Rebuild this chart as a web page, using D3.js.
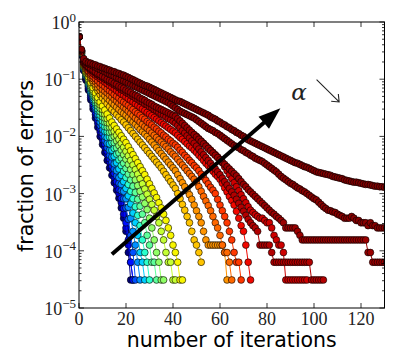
<!DOCTYPE html>
<html><head><meta charset="utf-8">
<script src="https://cdn.jsdelivr.net/npm/d3@7"></script>
<style>html,body{margin:0;padding:0;background:#fff;}svg{display:block;}</style>
</head><body>
<svg id="chart" width="399" height="363"></svg>
<script>
// ---- data (log10 of fraction of errors, index = iteration number) ----
const xTicks = [0, 20, 40, 60, 80, 100, 120];
const yTickExps = [0, -1, -2, -3, -4, -5];
const xLabel = "number of iterations";
const yLabel = "fraction of errors";
const alphaLabel = "α";
const colors = ['#000080','#0000c8','#0010ff','#0050ff','#0090ff','#00d0ff','#2affcd','#5dff9a','#90ff66','#c4ff33','#f8f500','#ffc400','#ff9400','#ff6800','#ff3800','#f10800','#cd0000','#b20000','#9a0000','#880000','#800000'];

const s01 = [-0.26,-0.58,-0.85,-1.02,-1.19,-1.36,-1.52,-1.68,-1.84,-2.0,-2.14,-2.28,-2.42,-2.55,-2.68,-2.81,-2.94,-3.08,-3.25,-3.43,-3.66,-4.03,-4.51];
const s02 = [-0.26,-0.57,-0.84,-1.0,-1.16,-1.32,-1.47,-1.62,-1.77,-1.92,-2.06,-2.19,-2.32,-2.45,-2.58,-2.72,-2.86,-3.0,-3.16,-3.36,-3.6,-3.9,-4.2,-4.51];
const s03 = [-0.26,-0.56,-0.83,-0.98,-1.13,-1.28,-1.43,-1.58,-1.72,-1.86,-2.0,-2.13,-2.26,-2.39,-2.52,-2.65,-2.79,-2.93,-3.08,-3.26,-3.51,-3.81,-4.2,-4.51];
const s04 = [-0.26,-0.55,-0.82,-0.97,-1.11,-1.25,-1.39,-1.53,-1.67,-1.81,-1.94,-2.07,-2.2,-2.33,-2.45,-2.57,-2.69,-2.82,-2.95,-3.09,-3.25,-3.45,-3.73,-4.03,-4.51];
const s05 = [-0.26,-0.55,-0.81,-0.95,-1.09,-1.23,-1.36,-1.49,-1.62,-1.75,-1.88,-2.0,-2.12,-2.24,-2.36,-2.48,-2.6,-2.72,-2.84,-2.96,-3.09,-3.24,-3.43,-3.66,-3.9,-4.2,-4.51];
const s06 = [-0.26,-0.54,-0.8,-0.94,-1.07,-1.2,-1.32,-1.44,-1.56,-1.68,-1.8,-1.91,-2.02,-2.13,-2.24,-2.35,-2.46,-2.57,-2.68,-2.79,-2.91,-3.04,-3.18,-3.34,-3.51,-3.73,-4.03,-4.2,-4.51];
const s07 = [-0.26,-0.54,-0.79,-0.92,-1.05,-1.17,-1.29,-1.41,-1.52,-1.63,-1.73,-1.83,-1.92,-2.01,-2.11,-2.21,-2.31,-2.41,-2.51,-2.61,-2.72,-2.84,-2.96,-3.09,-3.23,-3.38,-3.56,-3.81,-4.03,-4.2,-4.51];
const s08 = [-0.26,-0.53,-0.78,-0.91,-1.03,-1.15,-1.26,-1.37,-1.47,-1.57,-1.66,-1.75,-1.84,-1.93,-2.02,-2.11,-2.2,-2.29,-2.38,-2.47,-2.56,-2.66,-2.76,-2.87,-2.98,-3.1,-3.22,-3.36,-3.51,-3.73,-3.9,-4.2,-4.2,-4.51];
const s09 = [-0.26,-0.53,-0.77,-0.9,-1.01,-1.12,-1.22,-1.32,-1.42,-1.51,-1.6,-1.68,-1.76,-1.84,-1.92,-2.0,-2.08,-2.16,-2.24,-2.32,-2.4,-2.49,-2.58,-2.67,-2.76,-2.86,-2.96,-3.06,-3.17,-3.28,-3.43,-3.6,-3.81,-4.03,-4.2,-4.51,-4.51];
const s10 = [-0.26,-0.52,-0.76,-0.88,-0.99,-1.09,-1.19,-1.28,-1.37,-1.45,-1.53,-1.61,-1.69,-1.77,-1.84,-1.91,-1.98,-2.05,-2.12,-2.19,-2.26,-2.34,-2.42,-2.5,-2.58,-2.66,-2.74,-2.83,-2.92,-3.01,-3.1,-3.19,-3.29,-3.4,-3.51,-3.66,-3.81,-4.03,-4.2,-4.2,-4.51,-4.51];
const s11 = [-0.26,-0.52,-0.75,-0.86,-0.96,-1.06,-1.15,-1.24,-1.32,-1.4,-1.47,-1.54,-1.61,-1.68,-1.75,-1.81,-1.87,-1.93,-1.99,-2.05,-2.11,-2.18,-2.25,-2.32,-2.39,-2.46,-2.53,-2.6,-2.67,-2.75,-2.83,-2.91,-2.99,-3.07,-3.16,-3.25,-3.36,-3.47,-3.6,-3.73,-3.9,-4.03,-4.2,-4.51,-4.51];
const s12 = [-0.26,-0.52,-0.74,-0.83,-0.91,-0.99,-1.06,-1.13,-1.2,-1.27,-1.33,-1.38,-1.43,-1.48,-1.53,-1.57,-1.62,-1.66,-1.71,-1.75,-1.8,-1.85,-1.9,-1.95,-2.0,-2.05,-2.1,-2.15,-2.2,-2.25,-2.3,-2.35,-2.4,-2.45,-2.5,-2.55,-2.61,-2.67,-2.73,-2.79,-2.85,-2.91,-3.0,-3.09,-3.19,-3.29,-3.4,-3.51,-3.66,-3.81,-3.9,-4.03,-4.2];
const s13 = [-0.26,-0.51,-0.73,-0.82,-0.9,-0.97,-1.03,-1.09,-1.15,-1.2,-1.25,-1.29,-1.33,-1.37,-1.41,-1.45,-1.49,-1.53,-1.57,-1.6,-1.63,-1.67,-1.71,-1.75,-1.79,-1.83,-1.88,-1.92,-1.96,-2.0,-2.05,-2.1,-2.15,-2.2,-2.25,-2.3,-2.35,-2.4,-2.45,-2.5,-2.55,-2.6,-2.67,-2.74,-2.81,-2.88,-2.95,-3.02,-3.1,-3.2,-3.3,-3.4,-3.51,-3.66,-3.81,-3.9,-3.9,-3.9,-3.9,-3.9,-3.9,-3.9,-4.03,-4.51];
const s14 = [-0.26,-0.51,-0.72,-0.8,-0.87,-0.93,-0.99,-1.04,-1.09,-1.14,-1.18,-1.21,-1.24,-1.28,-1.31,-1.35,-1.38,-1.42,-1.45,-1.49,-1.52,-1.56,-1.6,-1.64,-1.68,-1.71,-1.75,-1.79,-1.83,-1.86,-1.9,-1.94,-1.98,-2.02,-2.06,-2.1,-2.14,-2.18,-2.22,-2.27,-2.31,-2.35,-2.4,-2.45,-2.5,-2.55,-2.6,-2.65,-2.7,-2.75,-2.8,-2.88,-2.96,-3.05,-3.13,-3.21,-3.3,-3.4,-3.51,-3.6,-3.73,-3.9,-4.03,-4.03,-4.2,-4.51];
const s15 = [-0.26,-0.51,-0.71,-0.78,-0.85,-0.9,-0.95,-0.99,-1.03,-1.07,-1.1,-1.13,-1.17,-1.2,-1.23,-1.27,-1.3,-1.33,-1.37,-1.4,-1.43,-1.46,-1.5,-1.53,-1.57,-1.6,-1.63,-1.67,-1.7,-1.74,-1.77,-1.8,-1.84,-1.87,-1.91,-1.94,-1.98,-2.01,-2.05,-2.08,-2.12,-2.15,-2.19,-2.24,-2.28,-2.33,-2.37,-2.42,-2.46,-2.51,-2.55,-2.6,-2.66,-2.71,-2.77,-2.83,-2.89,-2.94,-3.0,-3.1,-3.2,-3.3,-3.4,-3.51,-3.66,-3.81,-4.03,-4.2,-4.2,-4.51];
const s16 = [-0.26,-0.5,-0.7,-0.76,-0.81,-0.86,-0.9,-0.93,-0.96,-0.99,-1.02,-1.05,-1.08,-1.11,-1.14,-1.17,-1.2,-1.23,-1.26,-1.28,-1.31,-1.34,-1.37,-1.4,-1.43,-1.46,-1.49,-1.52,-1.55,-1.58,-1.61,-1.64,-1.67,-1.7,-1.73,-1.76,-1.79,-1.82,-1.85,-1.88,-1.91,-1.94,-1.98,-2.02,-2.05,-2.09,-2.13,-2.17,-2.2,-2.24,-2.28,-2.33,-2.37,-2.42,-2.47,-2.51,-2.56,-2.61,-2.66,-2.7,-2.75,-2.82,-2.9,-2.97,-3.05,-3.12,-3.2,-3.31,-3.43,-3.56,-3.66,-3.9,-4.2,-4.51];
const s17 = [-0.26,-0.5,-0.7,-0.75,-0.79,-0.83,-0.86,-0.89,-0.92,-0.94,-0.96,-0.99,-1.01,-1.04,-1.06,-1.09,-1.11,-1.14,-1.16,-1.19,-1.21,-1.23,-1.26,-1.28,-1.31,-1.33,-1.35,-1.38,-1.4,-1.43,-1.45,-1.48,-1.5,-1.53,-1.55,-1.58,-1.6,-1.63,-1.65,-1.68,-1.7,-1.73,-1.76,-1.79,-1.82,-1.85,-1.88,-1.91,-1.94,-1.97,-2.0,-2.04,-2.08,-2.12,-2.16,-2.2,-2.24,-2.28,-2.32,-2.36,-2.4,-2.46,-2.53,-2.6,-2.67,-2.74,-2.81,-2.88,-2.95,-3.02,-3.09,-3.16,-3.23,-3.29,-3.33,-3.37,-3.4,-3.43,-3.43,-3.47,-3.51,-3.51,-3.6,-3.73,-3.81,-3.9,-3.9,-4.03,-4.51,-4.51,-4.51,-4.51,-4.51,-4.51,-4.51,-4.51,-4.51,-4.51];
const s18 = [-0.26,-0.5,-0.7,-0.75,-0.79,-0.83,-0.86,-0.89,-0.92,-0.95,-0.97,-1.0,-1.02,-1.05,-1.07,-1.1,-1.12,-1.15,-1.18,-1.2,-1.23,-1.25,-1.28,-1.3,-1.33,-1.35,-1.38,-1.4,-1.43,-1.45,-1.48,-1.5,-1.53,-1.55,-1.58,-1.61,-1.63,-1.66,-1.69,-1.71,-1.74,-1.77,-1.81,-1.85,-1.9,-1.94,-1.99,-2.03,-2.08,-2.12,-2.17,-2.22,-2.27,-2.32,-2.37,-2.42,-2.47,-2.52,-2.57,-2.62,-2.67,-2.73,-2.79,-2.85,-2.91,-2.97,-3.03,-3.1,-3.17,-3.24,-3.31,-3.38,-3.45,-3.51,-3.56,-3.6,-3.66,-3.9,-3.9,-3.9,-3.9,-3.9,-4.03,-4.2,-4.2,-4.2,-4.2,-4.2,-4.2,-4.2,-4.2,-4.2,-4.2,-4.2,-4.2,-4.2,-4.2,-4.2,-4.2,-4.51,-4.51,-4.51,-4.51,-4.51,-4.51];
const s19 = [-0.26,-0.5,-0.69,-0.74,-0.78,-0.81,-0.84,-0.87,-0.9,-0.92,-0.95,-0.97,-1.0,-1.02,-1.04,-1.07,-1.09,-1.12,-1.14,-1.16,-1.19,-1.21,-1.23,-1.26,-1.28,-1.3,-1.33,-1.35,-1.37,-1.4,-1.42,-1.44,-1.47,-1.49,-1.51,-1.53,-1.55,-1.57,-1.59,-1.61,-1.63,-1.65,-1.69,-1.73,-1.77,-1.81,-1.85,-1.89,-1.93,-1.97,-2.01,-2.05,-2.09,-2.13,-2.17,-2.21,-2.25,-2.29,-2.33,-2.37,-2.41,-2.45,-2.49,-2.53,-2.57,-2.61,-2.65,-2.69,-2.74,-2.79,-2.84,-2.88,-2.93,-2.97,-3.01,-3.05,-3.09,-3.13,-3.17,-3.21,-3.25,-3.29,-3.33,-3.36,-3.4,-3.43,-3.47,-3.51,-3.6,-3.6,-3.6,-3.6,-3.6,-3.66,-3.73,-3.81,-3.81,-3.81,-3.81,-3.81,-3.81,-3.81,-3.81,-3.81,-3.81,-3.81,-3.81,-3.81,-3.81,-3.81,-3.81,-3.81,-3.81,-3.81,-3.81,-3.81,-3.81,-3.81,-3.81,-3.81,-3.81,-3.81,-3.81,-4.03,-4.03,-4.2,-4.2,-4.2,-4.2,-4.2,-4.2,-4.2];
const s20 = [-0.26,-0.49,-0.67,-0.71,-0.73,-0.75,-0.77,-0.79,-0.81,-0.83,-0.85,-0.87,-0.89,-0.91,-0.93,-0.95,-0.97,-0.99,-1.01,-1.03,-1.05,-1.07,-1.09,-1.11,-1.13,-1.15,-1.17,-1.19,-1.21,-1.23,-1.25,-1.27,-1.29,-1.31,-1.33,-1.35,-1.37,-1.39,-1.41,-1.44,-1.47,-1.5,-1.53,-1.56,-1.58,-1.6,-1.62,-1.64,-1.66,-1.68,-1.71,-1.74,-1.77,-1.8,-1.83,-1.86,-1.88,-1.9,-1.93,-1.95,-1.98,-2.01,-2.04,-2.07,-2.1,-2.13,-2.16,-2.18,-2.2,-2.23,-2.25,-2.28,-2.3,-2.33,-2.35,-2.38,-2.4,-2.42,-2.44,-2.47,-2.5,-2.53,-2.56,-2.59,-2.62,-2.66,-2.7,-2.73,-2.76,-2.79,-2.82,-2.84,-2.87,-2.9,-2.92,-2.95,-2.97,-3.0,-3.03,-3.06,-3.09,-3.11,-3.15,-3.19,-3.23,-3.26,-3.29,-3.3,-3.32,-3.33,-3.36,-3.38,-3.4,-3.43,-3.43,-3.43,-3.4,-3.43,-3.47,-3.47,-3.51,-3.51,-3.51,-3.56,-3.51,-3.56,-3.56,-3.6,-3.6,-3.6,-3.6,-3.6];
const s21 = [-0.26,-0.48,-0.64,-0.69,-0.71,-0.72,-0.74,-0.75,-0.77,-0.78,-0.8,-0.81,-0.83,-0.84,-0.86,-0.87,-0.89,-0.9,-0.92,-0.93,-0.95,-0.97,-0.99,-1.01,-1.03,-1.05,-1.07,-1.09,-1.11,-1.12,-1.14,-1.16,-1.18,-1.2,-1.22,-1.24,-1.26,-1.28,-1.3,-1.32,-1.34,-1.36,-1.38,-1.39,-1.41,-1.43,-1.45,-1.47,-1.49,-1.51,-1.53,-1.55,-1.57,-1.59,-1.61,-1.63,-1.66,-1.68,-1.7,-1.73,-1.75,-1.78,-1.8,-1.83,-1.85,-1.88,-1.9,-1.93,-1.95,-1.98,-2.0,-2.03,-2.06,-2.08,-2.1,-2.12,-2.14,-2.16,-2.18,-2.2,-2.22,-2.24,-2.26,-2.28,-2.3,-2.32,-2.34,-2.36,-2.38,-2.4,-2.42,-2.44,-2.46,-2.47,-2.49,-2.51,-2.53,-2.54,-2.56,-2.58,-2.6,-2.62,-2.63,-2.64,-2.65,-2.66,-2.67,-2.68,-2.7,-2.71,-2.72,-2.73,-2.74,-2.76,-2.77,-2.78,-2.79,-2.8,-2.8,-2.81,-2.82,-2.83,-2.84,-2.84,-2.85,-2.86,-2.87,-2.87,-2.88,-2.88,-2.89,-2.89];

const series = [s01,s02,s03,s04,s05,s06,s07,s08,s09,s10,s11,s12,s13,s14,s15,s16,s17,s18,s19,s20,s21];

// annotation anchor points in data coordinates
const arrowFrom = [14, 8.7e-5];
const arrowTo = [85.7, 3.1e-2];
const alphaPos = [93.6, 5.7e-2];
const smallArrowFrom = [101.1, 9.8e-2];
const smallArrowTo = [110.7, 4.0e-2];

// ---- drawing ----
const svg = d3.select("#chart");
svg.append("rect").attr("width",399).attr("height",363).attr("fill","#fff");
const L=79, R=384.5, T=22, B=308;
const x = d3.scaleLinear().domain([0,130]).range([L,R]);
const y = d3.scaleLog().domain([1e-5,1]).range([B,T]);

svg.append("clipPath").attr("id","clip").append("rect")
  .attr("x",L).attr("y",T).attr("width",R-L).attr("height",B-T);

const plot = svg.append("g").attr("clip-path","url(#clip)");
const line = d3.line().x((v,i)=>x(i)).y(v=>y(Math.pow(10,v)));

series.forEach((s,k)=>{
  const g = plot.append("g");
  g.append("path").attr("d",line(s)).attr("fill","none")
    .attr("stroke",colors[k]).attr("stroke-width",1);
  g.selectAll("circle").data(s).join("circle")
    .attr("cx",(v,i)=>x(i)).attr("cy",v=>y(Math.pow(10,v)))
    .attr("r",3.4).attr("fill",colors[k])
    .attr("stroke","#000").attr("stroke-width",0.6);
});

// big arrow
const ax0=x(arrowFrom[0]), ay0=y(arrowFrom[1]), ax1=x(arrowTo[0]), ay1=y(arrowTo[1]);
const len=Math.hypot(ax1-ax0, ay1-ay0), ux=(ax1-ax0)/len, uy=(ay1-ay0)/len;
const hl=22, hw=8;
const bx=ax1-hl*ux, by=ay1-hl*uy;
svg.append("line").attr("x1",ax0).attr("y1",ay0).attr("x2",bx+2*ux).attr("y2",by+2*uy)
  .attr("stroke","#000").attr("stroke-width",4);
svg.append("path").attr("d",`M${ax1},${ay1}L${bx-hw*uy},${by+hw*ux}L${bx+hw*uy},${by-hw*ux}Z`)
  .attr("fill","#000");

// alpha label and small arrow
svg.append("text").attr("x",x(alphaPos[0])).attr("y",y(alphaPos[1])+7)
  .attr("text-anchor","middle").attr("font-family","'DejaVu Serif', 'Liberation Serif', serif")
  .attr("font-style","italic").attr("font-size",23).attr("fill","#222").text(alphaLabel);
const sx0=x(smallArrowFrom[0]), sy0=y(smallArrowFrom[1]), sx1=x(smallArrowTo[0]), sy1=y(smallArrowTo[1]);
const sl=Math.hypot(sx1-sx0,sy1-sy0), vx=(sx1-sx0)/sl, vy=(sy1-sy0)/sl;
const rot=(a)=>[vx*Math.cos(a)-vy*Math.sin(a), vx*Math.sin(a)+vy*Math.cos(a)];
const h1=rot(Math.PI*0.78), h2=rot(-Math.PI*0.78);
svg.append("path").attr("d",`M${sx0},${sy0}L${sx1},${sy1}M${sx1+8*h1[0]},${sy1+8*h1[1]}L${sx1},${sy1}L${sx1+8*h2[0]},${sy1+8*h2[1]}`)
  .attr("fill","none").attr("stroke","#222").attr("stroke-width",1.1);

// frame
svg.append("rect").attr("x",L).attr("y",T).attr("width",R-L).attr("height",B-T)
  .attr("fill","none").attr("stroke","#000").attr("stroke-width",1);

// ticks
const tk = svg.append("g").attr("stroke","#000").attr("stroke-width",0.8);
xTicks.forEach(t=>{
  const px=x(t);
  tk.append("line").attr("x1",px).attr("x2",px).attr("y1",B).attr("y2",B-5);
  tk.append("line").attr("x1",px).attr("x2",px).attr("y1",T).attr("y2",T+5);
});
yTickExps.forEach(e=>{
  const py=y(Math.pow(10,e));
  tk.append("line").attr("x1",L).attr("x2",L+5).attr("y1",py).attr("y2",py);
  tk.append("line").attr("x1",R).attr("x2",R-5).attr("y1",py).attr("y2",py);
  if (e<0) for (let m=2;m<=9;m++){
    const pm=y(m*Math.pow(10,e));
    tk.append("line").attr("x1",L).attr("x2",L+2.5).attr("y1",pm).attr("y2",pm);
    tk.append("line").attr("x1",R).attr("x2",R-2.5).attr("y1",pm).attr("y2",pm);
  }
});

// tick labels
const serif = "'Liberation Serif', 'DejaVu Serif', serif";
xTicks.forEach(t=>{
  svg.append("text").attr("x",x(t)).attr("y",B+17).attr("text-anchor","middle")
    .attr("font-family",serif).attr("font-size",18).attr("fill","#222").text(t);
});
yTickExps.forEach(e=>{
  const py=y(Math.pow(10,e));
  const tx=svg.append("text").attr("x",76).attr("y",py+7).attr("text-anchor","end")
    .attr("font-family",serif).attr("font-size",18).attr("fill","#222");
  tx.append("tspan").text("10");
  tx.append("tspan").attr("font-size",13).attr("dy",-7.5).text(e===0?"0":"\u2212"+(-e));
});

// axis labels
const sans = "'DejaVu Sans', 'Liberation Sans', sans-serif";
svg.append("text").attr("x",(L+R)/2).attr("y",347).attr("text-anchor","middle")
  .attr("font-family",sans).attr("font-size",20.5).attr("fill","#000").text(xLabel);
svg.append("text").attr("transform","translate(33,166) rotate(-90)").attr("text-anchor","middle")
  .attr("font-family",sans).attr("font-size",20.5).attr("fill","#000").text(yLabel);
</script>
</body></html>
